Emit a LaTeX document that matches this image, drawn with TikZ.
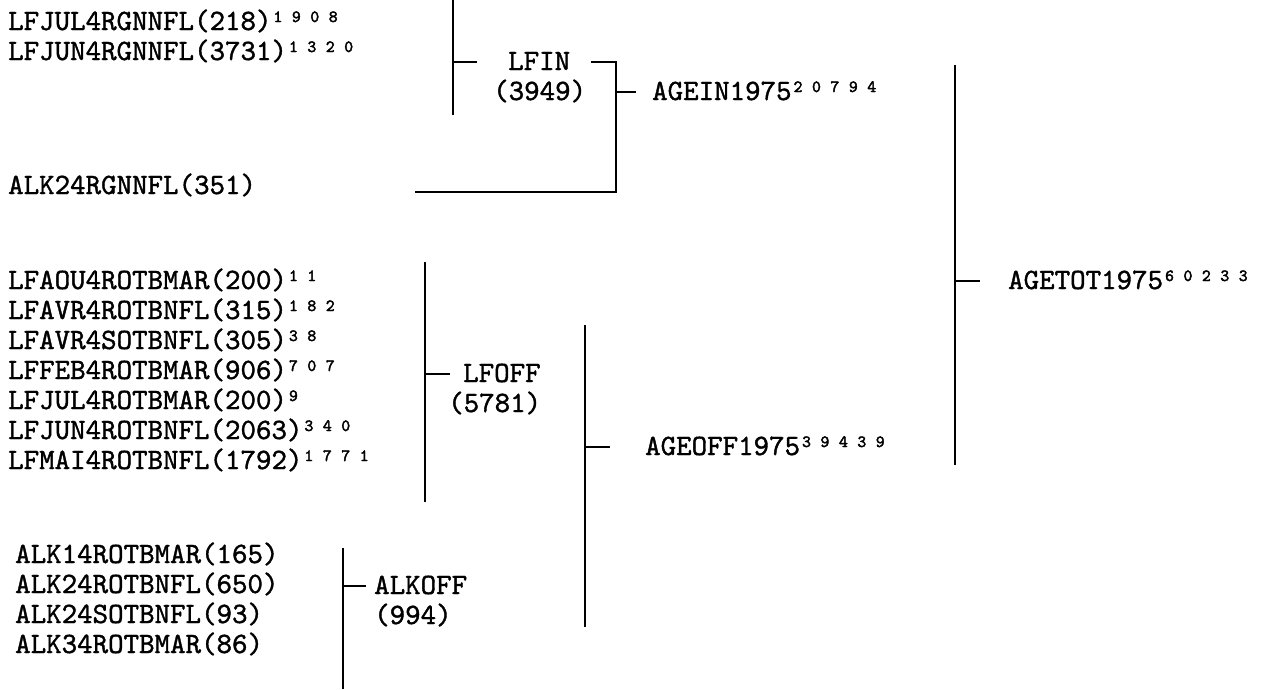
\documentclass[tikz,border=0pt]{standalone}
\usepackage{fontspec}
\newfontfamily\tw{lmmono10-regular}[Extension=.otf, FakeBold=1.3]
\newfontfamily\twb{lmmono10-regular}[Extension=.otf, FakeBold=2.5]
\makeatletter
\newcommand\ssup[1]{\hspace{2pt}\raisebox{8pt}{\twb\fontsize{17}{17}\selectfont\@tfor\sd:=#1\do{\sd\hspace{9.5pt}}}}
\makeatother
\tikzset{
  lbl/.style={anchor=base west, inner sep=0pt, font=\tw\fontsize{29.5}{30}\selectfont},
  br/.style={line width=2.6pt},
}
\begin{document}
\begin{tikzpicture}[x=1pt,y=-1pt]
\path[use as bounding box, fill=white] (0,0) rectangle (1262,689);
% ---------- top group: LFIN ----------
\node[lbl] (a1) at (8,30) {LFJUL4RGNNFL(218)\ssup{1908}};
\node[lbl] (a2) at (8,60) {LFJUN4RGNNFL(3731)\ssup{1320}};
\node[lbl] (a3) at (8,194) {ALK24RGNNFL(351)};
\coordinate (inT) at (453,0);
\coordinate (inB) at (453,115);
\coordinate (inM) at (453,62);
\coordinate (inMe) at (477,62);
\draw[br] (inT) -- (inB);
\draw[br] (inM) -- (inMe);
\node[lbl] (lfin) at (508,70) {LFIN};
\node[lbl] (lfinn) at (493,100) {(3949)};
\coordinate (j1s) at (591,62);
\coordinate (j1c) at (616,62);
\coordinate (j1b) at (616,192);
\coordinate (j1e) at (415,192);
\draw[br] (j1s) -- (j1c) -- (j1b) -- (j1e);
\coordinate (j1m) at (616,92);
\coordinate (j1me) at (636,92);
\draw[br] (j1m) -- (j1me);
\node[lbl] (agein) at (652,100) {AGEIN1975\ssup{20794}};
% ---------- AGETOT ----------
\coordinate (totT) at (955,65);
\coordinate (totB) at (955,465);
\coordinate (totM) at (955,281);
\coordinate (totMe) at (980,281);
\draw[br] (totT) -- (totB);
\draw[br] (totM) -- (totMe);
\node[lbl] (agetot) at (1008,289) {AGETOT1975\ssup{60233}};
% ---------- LFOFF group ----------
\node[lbl] (b1) at (8,289) {LFAOU4ROTBMAR(200)\ssup{11}};
\node[lbl] (b2) at (8,319) {LFAVR4ROTBNFL(315)\ssup{182}};
\node[lbl] (b3) at (8,349) {LFAVR4SOTBNFL(305)\ssup{38}};
\node[lbl] (b4) at (8,379) {LFFEB4ROTBMAR(906)\ssup{707}};
\node[lbl] (b5) at (8,409) {LFJUL4ROTBMAR(200)\ssup{9}};
\node[lbl] (b6) at (8,439) {LFJUN4ROTBNFL(2063)\ssup{340}};
\node[lbl] (b7) at (8,469) {LFMAI4ROTBNFL(1792)\ssup{1771}};
\coordinate (offT) at (425,262);
\coordinate (offB) at (425,502);
\coordinate (offM) at (425,374);
\coordinate (offMe) at (450,374);
\draw[br] (offT) -- (offB);
\draw[br] (offM) -- (offMe);
\node[lbl] (lfoff) at (463,382) {LFOFF};
\node[lbl] (lfoffn) at (448,412) {(5781)};
% ---------- AGEOFF ----------
\coordinate (aoT) at (585,325);
\coordinate (aoB) at (585,627);
\coordinate (aoM) at (585,447);
\coordinate (aoMe) at (610,447);
\draw[br] (aoT) -- (aoB);
\draw[br] (aoM) -- (aoMe);
\node[lbl] (ageoff) at (645,455) {AGEOFF1975\ssup{39439}};
% ---------- ALKOFF group ----------
\node[lbl] (c1) at (15,563) {ALK14ROTBMAR(165)};
\node[lbl] (c2) at (15,593) {ALK24ROTBNFL(650)};
\node[lbl] (c3) at (15,623) {ALK24SOTBNFL(93)};
\node[lbl] (c4) at (15,653) {ALK34ROTBMAR(86)};
\coordinate (alT) at (343,548);
\coordinate (alB) at (343,689);
\coordinate (alM) at (343,586);
\coordinate (alMe) at (366,586);
\draw[br] (alT) -- (alB);
\draw[br] (alM) -- (alMe);
\node[lbl] (alkoff) at (374,594) {ALKOFF};
\node[lbl] (alkoffn) at (374,624) {(994)};
\end{tikzpicture}
\end{document}
